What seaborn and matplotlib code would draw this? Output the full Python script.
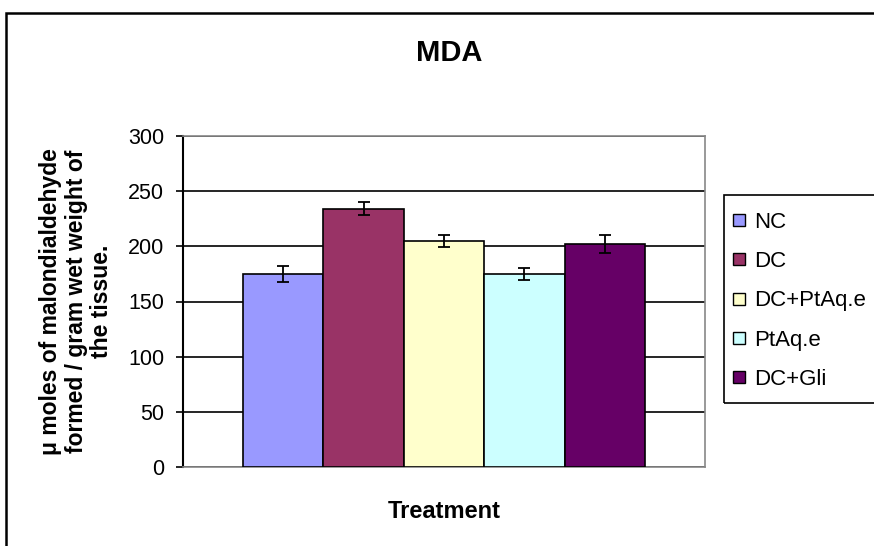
import pandas as pd
import matplotlib
matplotlib.use("Agg")
import matplotlib.pyplot as plt
import seaborn as sns
from matplotlib.lines import Line2D
from matplotlib.patches import Rectangle

# data
treatments = ["NC", "DC", "DC+PtAq.e", "PtAq.e", "DC+Gli"]
mda_values = [175, 234, 205, 175, 202]
mda_errors = [7, 6, 5.5, 5.5, 8]
bar_colors = ["#9999FF", "#993366", "#FFFFCC", "#CCFFFF", "#660066"]
y_ticks = [0, 50, 100, 150, 200, 250, 300]

df = pd.DataFrame({
    "group": ["MDA"] * len(treatments),
    "treatment": treatments,
    "value": mda_values,
})

sns.set_style("white")
plt.rcParams["font.family"] = ["Liberation Sans", "DejaVu Sans"]
plt.rcParams["text.color"] = "black"
plt.rcParams["axes.labelcolor"] = "black"
plt.rcParams["ytick.color"] = "black"

W, H = 874, 546
fig = plt.figure(figsize=(W / 100, H / 100), dpi=100)
ax = fig.add_axes([183 / W, 1 - 467 / H, (705 - 183) / W, (467 - 136) / H])

sns.barplot(
    data=df, x="group", y="value", hue="treatment",
    hue_order=treatments, palette=bar_colors, saturation=1,
    width=0.77, errorbar=None, edgecolor="black", linewidth=1.2,
    legend=False, ax=ax, zorder=3,
)

# error bars on top of each bar
for cont, err in zip(ax.containers, mda_errors):
    bar = cont.patches[0]
    xc = bar.get_x() + bar.get_width() / 2
    ax.errorbar(xc, bar.get_height(), yerr=err, fmt="none",
                ecolor="black", elinewidth=1.3, capsize=4.5,
                capthick=1.3, zorder=4)

ax.set_xlim(-0.5, 0.5)
ax.set_ylim(0, 300)
ax.set_yticks(y_ticks)
ax.set_xticks([])
ax.grid(axis="y", color="black", linewidth=1.2, zorder=0)
ax.tick_params(axis="y", direction="out", length=5, width=1.2,
               color="black", labelsize=15.5, pad=8.5, left=True)

for side in ["top", "right", "bottom"]:
    ax.spines[side].set_color("#888888")
    ax.spines[side].set_linewidth(1.2)
ax.spines["left"].set_color("black")
ax.spines["left"].set_linewidth(1.5)

ax.set_xlabel("Treatment", fontsize=17, fontweight="bold", labelpad=24)
ax.set_ylabel("μ moles of malondialdehyde\nformed / gram wet weight of\nthe tissue.",
              fontsize=16.5, fontweight="bold", linespacing=1.15, va="center")
ax.yaxis.set_label_coords((76 - 183) / 522, 0.5)

fig.text(449 / W, 1 - 53 / H, "MDA", ha="center", va="center",
         fontsize=21, fontweight="bold")

# legend with small square keys, frame drawn separately
handles = [
    Line2D([], [], marker="s", linestyle="none", markersize=8.5,
           markerfacecolor=c, markeredgecolor="black", markeredgewidth=1)
    for c in bar_colors
]
fig.legend(handles, treatments, loc="upper left",
           bbox_to_anchor=(730.5 / W, 1 - 212 / H),
           fontsize=16, frameon=False,
           handlelength=0.75, handletextpad=0.3, labelspacing=0.82,
           borderpad=0, borderaxespad=0)
fig.patches.append(Rectangle((724 / W, 1 - 403 / H), 0.3, (403 - 195) / H,
                             transform=fig.transFigure, fill=False,
                             edgecolor="black", linewidth=1.2))

# outer chart border (extends beyond the right and bottom edges)
fig.patches.append(Rectangle((6 / W, -0.1), 1.2, 1 - 13 / H + 0.1,
                             transform=fig.transFigure, fill=False,
                             edgecolor="black", linewidth=1.8))

fig.savefig("out.png", dpi=100)
